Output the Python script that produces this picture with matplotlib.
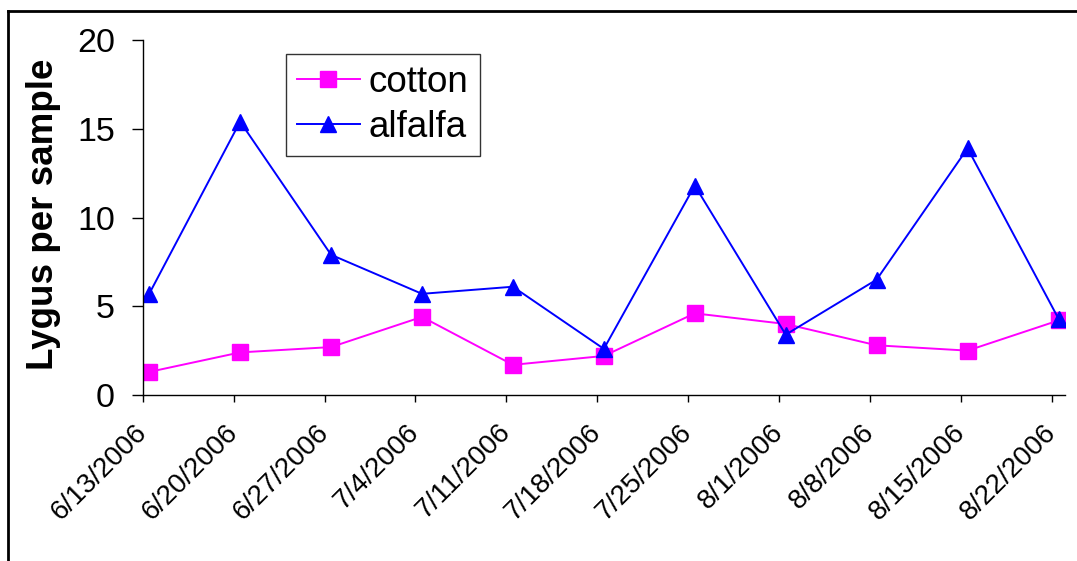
import pandas as pd
import matplotlib
matplotlib.use("Agg")
import matplotlib.pyplot as plt
import matplotlib.transforms as mtransforms
from matplotlib.lines import Line2D

plt.rcParams['font.family'] = ['Liberation Sans', 'DejaVu Sans']

# sample dates and counts
dates = ['6/13/2006', '6/20/2006', '6/27/2006', '7/4/2006', '7/11/2006', '7/18/2006',
         '7/25/2006', '8/1/2006', '8/8/2006', '8/15/2006', '8/22/2006']
cotton = [1.3, 2.4, 2.7, 4.4, 1.7, 2.2, 4.6, 4.0, 2.8, 2.5, 4.2]
alfalfa = [5.7, 15.4, 7.9, 5.7, 6.1, 2.6, 11.8, 3.4, 6.5, 13.9, 4.3]
y_ticks = [0, 5, 10, 15, 20]

d = pd.to_datetime(dates, format='%m/%d/%Y')
# excel date axis puts each point in the middle of its day
x = d + pd.Timedelta(hours=12)

W, H = 1077, 561
fig = plt.figure(figsize=(W / 100, H / 100), dpi=100)
ax = fig.add_axes([142.7 / W, 1 - 395 / H, (1065 - 142.7) / W, 355 / H])

ax.plot(x, cotton, color='#FF00FF', lw=1.4, marker='s', ms=11.5, mec='#FF00FF', label='cotton')
ax.plot(x, alfalfa, color='#0000FF', lw=1.4, marker='^', ms=12, mec='#0000FF', label='alfalfa')

ax.set_xlim(d[0], d[-1] + pd.Timedelta(days=1))
ax.set_ylim(0, 20)
ax.set_yticks(y_ticks)
ax.set_yticklabels([str(v) for v in y_ticks], fontsize=24.5)
ax.set_xticks(d)
ax.set_xticklabels(dates, rotation=45, ha='right', va='center', rotation_mode='anchor', fontsize=20)
shift = mtransforms.ScaledTranslation(-4 / 100, 0, fig.dpi_scale_trans)
for lab in ax.get_xticklabels():
    lab.set_transform(lab.get_transform() + shift)

ax.spines['top'].set_visible(False)
ax.spines['right'].set_visible(False)
ax.spines['left'].set_linewidth(1)
ax.spines['bottom'].set_linewidth(1)
ax.tick_params(axis='y', direction='out', length=8, width=1, pad=12)
ax.tick_params(axis='x', direction='out', length=5, width=1, pad=19)

ax.set_ylabel('Lygus per sample', fontsize=26.5, fontweight='bold')
ax.yaxis.set_label_coords(-0.089, 0.51)

leg = ax.legend(loc='upper left', bbox_to_anchor=((286 - 142.7) / 922.6, 1 - (54.3 - 40) / 355),
                borderaxespad=0, fontsize=26.5, frameon=True, fancybox=False,
                handlelength=1.7, handletextpad=0.25, borderpad=0.3, labelspacing=0.25)
leg.get_frame().set_edgecolor('black')
leg.get_frame().set_linewidth(1)

# outer chart border (left and top visible)
bx, by = 8 / W, 1 - 10.5 / H
fig.add_artist(Line2D([bx, bx], [0, by], transform=fig.transFigure, color='black', lw=2))
fig.add_artist(Line2D([bx, 1], [by, by], transform=fig.transFigure, color='black', lw=2))

fig.savefig('out.png', dpi=100)
